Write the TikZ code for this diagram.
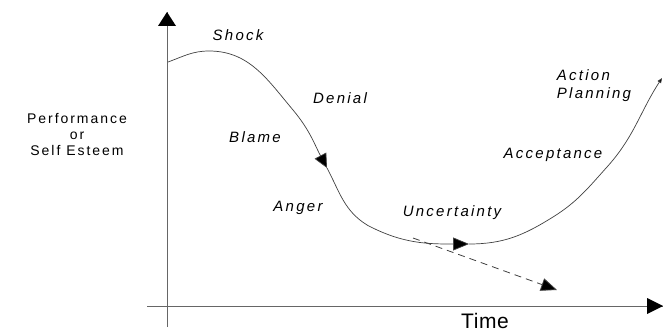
\documentclass[tikz,border=0pt]{standalone}
\usepackage{fontspec}
\setmainfont{Liberation Sans}
\newfontfamily\stagefont[LetterSpace=15]{Liberation Sans}
\newfontfamily\axisfont[LetterSpace=14]{Liberation Sans}
\newfontfamily\timefont[LetterSpace=3]{Liberation Sans}
\usetikzlibrary{arrows.meta}

\begin{document}
\begin{tikzpicture}[x=1pt,y=1pt,
  stage/.style={font=\stagefont\fontsize{15}{18}\selectfont\itshape, inner sep=0pt},
  axislabel/.style={font=\axisfont\fontsize{14}{17}\selectfont, inner sep=0pt, align=center},
  axisline/.style={draw=black!60, line width=1pt},
  curve/.style={draw=black!75, line width=0.7pt}]

  \useasboundingbox (0,0) rectangle (663,332);

  % axes
  \coordinate (ybot) at (167,5);
  \coordinate (ytop) at (167,320);
  \coordinate (xleft) at (147,26);
  \coordinate (xright) at (663,26);
  \draw[axisline] (ybot) -- (ytop);
  \draw[axisline] (xleft) -- (xright);
  \fill (ytop) -- ++(-9,-14) -- ++(18,0) -- cycle;
  \fill (xright) -- ++(-16,8) -- ++(0,-16) -- cycle;

  \node[axislabel] (perf) at (77,197) {Performance\\[-1pt]or\\[-1pt]Self Esteem};
  \node[axislabel, font=\timefont\fontsize{21}{24}\selectfont] (time) at (485,11) {Time};

  % the curve
  \coordinate (c0) at (168,270);
  \coordinate (c1) at (209,281);
  \coordinate (c2) at (293,222);
  \coordinate (c3) at (327,164);
  \coordinate (c4) at (367,107);
  \coordinate (c5) at (469,88);
  \coordinate (c6) at (553,115);
  \coordinate (c7) at (607,165);
  \coordinate (c8) at (662,254);

  \draw[curve, -{Triangle[length=14pt,width=13pt,fill=black]}]
    (c0) to[out=20,in=180] (c1) to[out=0,in=130] (c2) to[out=-50,in=118] (c3);
  \draw[curve, -{Triangle[length=16pt,width=13pt,fill=black]}]
    (c3) to[out=-62,in=148] (c4) to[out=-28,in=180] (c5);
  \draw[curve, -{Triangle[length=5pt,width=4pt,fill=black]}]
    (c5) to[out=0,in=212] (c6) to[out=32,in=228] (c7) to[out=48,in=237] (c8);

  % the dashed way down
  \coordinate (d0) at (413,94);
  \coordinate (d1) at (557,42);
  \draw[black!75, line width=0.8pt, dash pattern=on 7pt off 5pt,
    -{Triangle[length=16pt,width=13pt,fill=black]}] (d0) -- (d1);

  % stages
  \node[stage] (shock) at (238,297) {Shock};
  \node[stage] (denial) at (340,234) {Denial};
  \node[stage] (blame) at (255,195) {Blame};
  \node[stage] (anger) at (298,124) {Anger};
  \node[stage] (uncert) at (452,119) {Uncertainty};
  \node[stage] (accept) at (553,177) {Acceptance};
  \node[stage, align=left] (action) at (594,246) {Action\\Planning};

\end{tikzpicture}
\end{document}
